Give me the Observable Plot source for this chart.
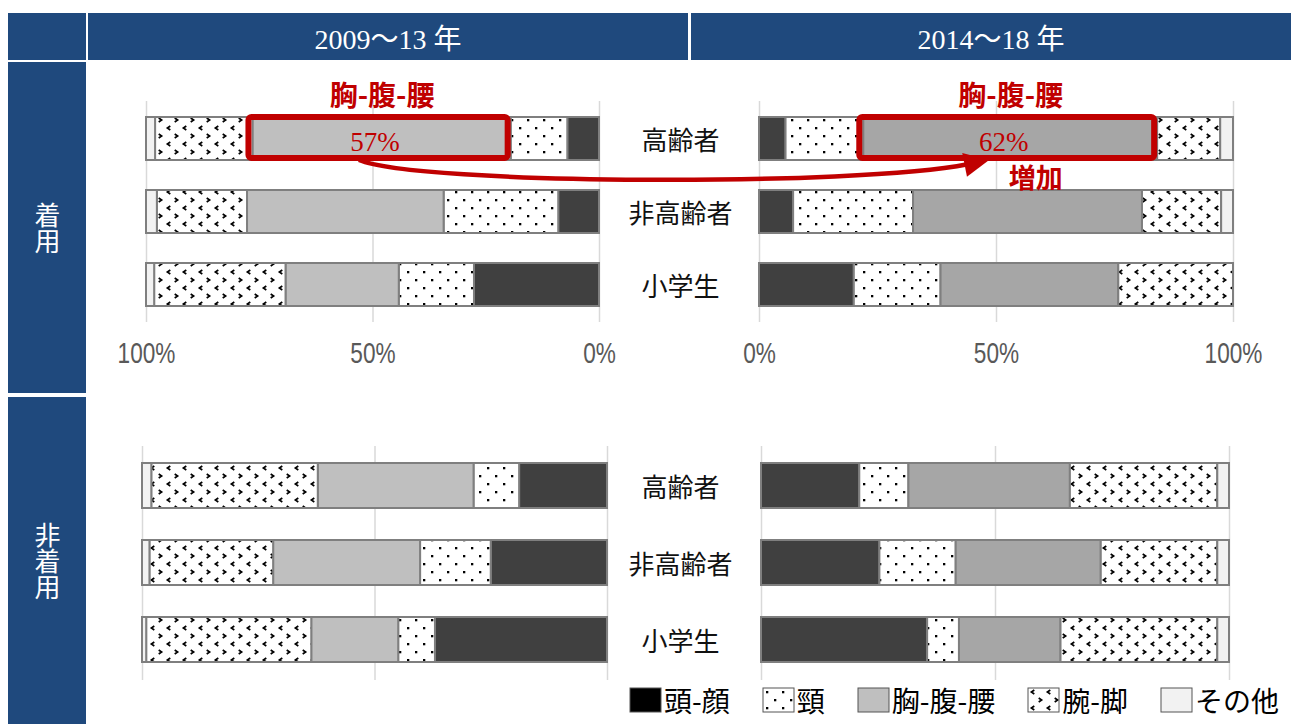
<!DOCTYPE html>
<html><head><meta charset="utf-8">
<script src="https://cdn.jsdelivr.net/npm/d3@7"></script>
<script src="https://cdn.jsdelivr.net/npm/@observablehq/plot@0.6"></script>
<style>
body{margin:0;background:#fff;}
#page{position:relative;width:1299px;height:724px;overflow:hidden;font-family:"Noto Sans CJK JP",sans-serif;}
.cell{position:absolute;background:#1f497d;color:#fff;display:flex;align-items:center;justify-content:center;}
.hdr{font-family:"Liberation Serif","Noto Sans CJK JP",serif;font-size:28px;}
.side{font-size:26px;}
.side span{writing-mode:vertical-rl;text-orientation:upright;line-height:1;}
.panel{position:absolute;}
#overlay{position:absolute;left:0;top:0;pointer-events:none;}
#legend{position:absolute;left:630px;top:680px;width:700px;}
#legend .lg-swatches{font-size:28px !important;font-family:"Noto Sans CJK JP",sans-serif !important;color:#000;margin:0 !important;}
#legend .lg-swatch{margin-right:33px !important;}
#legend .lg-swatch > svg{margin-right:3px !important;}
#legend .lg-swatch rect{stroke:#555;stroke-width:1px;}
</style></head><body>
<svg width="0" height="0" style="position:absolute">
<defs>
<pattern id="pDots" patternUnits="userSpaceOnUse" width="16" height="16">
<rect width="16" height="16" fill="#fff"/>
<rect x="3" y="3" width="2.3" height="2.3" fill="#000"/>
<rect x="11" y="11" width="2.3" height="2.3" fill="#000"/>
</pattern>
<pattern id="pChev" patternUnits="userSpaceOnUse" width="16" height="16">
<rect width="16" height="16" fill="#fff"/>
<path d="M6.3,2 L3.4,4 L6.3,6" fill="none" stroke="#000" stroke-width="1.7"/>
<path d="M10.7,10 L13.6,12 L10.7,14" fill="none" stroke="#000" stroke-width="1.7"/>
</pattern>
</defs>
</svg>
<div id="page"></div>
<script>
// ---- data ----
const parts = ["頭-顔", "頸", "胸-腹-腰", "腕-脚", "その他"];
const groups = ["高齢者", "非高齢者", "小学生"];
const ticks = [0, 50, 100];
const periods = ["2009～13 年", "2014～18 年"];
const wearLabels = ["着用", "非着用"];
// rows: groups, columns: parts (percent)
const wearing2009 = [[7, 12.5, 57, 21.5, 2], [9, 25.3, 43.4, 19.9, 2.4], [27.6, 16.6, 25, 29, 1.8]];
const wearing2014 = [[5.6, 16.4, 62, 13.3, 2.7], [7.2, 25.3, 48.3, 16.7, 2.5], [20, 18.3, 37.5, 24.2, 0]];
const notWearing2009 = [[18.9, 9.8, 33.5, 35.8, 2], [25, 15.2, 31.6, 26.6, 1.6], [37, 7.9, 18.7, 35.5, 0.9]];
const notWearing2014 = [[21, 10.5, 34.5, 31.5, 2.5], [25.3, 16.3, 31, 24.9, 2.5], [35.5, 6.8, 21.7, 33.5, 2.5]];
const highlight = {group: "高齢者", part: "胸-腹-腰", change: "増加"};
const fillsEarly = ["#404040", "url(#pDots)", "#bfbfbf", "url(#pChev)", "#f2f2f2"];
const fillsLate = ["#404040", "url(#pDots)", "#a6a6a6", "url(#pChev)", "#f2f2f2"];
const legendFills = ["#000000", "url(#pDots)", "#bfbfbf", "url(#pChev)", "#f2f2f2"];

const page = document.getElementById("page");
function cell(cls, l, t, w, h, html) {
  const d = document.createElement("div");
  d.className = "cell " + cls;
  Object.assign(d.style, {left: l + "px", top: t + "px", width: w + "px", height: h + "px"});
  d.innerHTML = html;
  page.appendChild(d);
}
cell("", 8, 13, 78, 47, "");
cell("hdr", 88, 13, 600, 47, periods[0]);
cell("hdr", 691, 13, 600, 47, periods[1]);
cell("side", 8, 62, 78, 331, "<span>" + wearLabels[0] + "</span>");
cell("side", 8, 397, 78, 327, "<span>" + wearLabels[1] + "</span>");

const cjk = "Noto Sans CJK JP, sans-serif";
function makePanel(cfg) {
  const data = groups.flatMap((g, i) => parts.map((p, j) => ({group: g, part: p, value: cfg.values[i][j]})));
  const st = (o) => Plot.stackX({x: "value", y: "group", ...o});
  const isHi = d => d.group === highlight.group && d.part === highlight.part;
  const marks = [
    Plot.ruleX(ticks, {stroke: "#d9d9d9", strokeWidth: 1.5}),
    Plot.barX(data, st({fill: "part", stroke: "#7f7f7f", strokeWidth: 2}))
  ];
  if (cfg.labels) marks.push(Plot.text(groups, {y: d => d, text: d => d, frameAnchor: "left", dx: cfg.labelDx, dy: 3,
    textAnchor: "middle", fontSize: 26, fill: "#111", fontFamily: cjk}));
  if (cfg.axis) marks.push(Plot.axisX(ticks, {tickSize: 0, tickPadding: 20, tickFormat: d => d + "%", fontSize: 29,
    label: null, color: "#595959", fontFamily: "Liberation Sans, Arial, sans-serif"}));
  if (cfg.highlight) {
    marks.push(
      Plot.barX(data, Plot.filter(isHi, st({fill: "none", stroke: "#c00000", strokeWidth: 6, rx: 3,
        insetLeft: -4, insetRight: 3, insetTop: 0, insetBottom: 2}))),
      Plot.text(data, Plot.filter(isHi, st({text: "part", dy: -42, fontSize: 28, fontWeight: "bold", fill: "#c00000", fontFamily: cjk}))),
      Plot.text(data, Plot.filter(isHi, st({text: d => Math.round(d.value) + "%", dx: -7, dy: 3, fontSize: 27,
        fill: "#c00000", fontFamily: "Liberation Serif, serif"})))
    );
    if (cfg.change) marks.push(Plot.text(data, Plot.filter(isHi, st({text: () => highlight.change, dx: 25, dy: 40,
      fontSize: 27, fontWeight: "bold", fill: "#c00000", fontFamily: cjk}))));
  }
  const xOpt = {domain: [0, 100], reverse: cfg.reverse, label: null};
  if (!cfg.axis) xOpt.axis = null;
  const plot = Plot.plot({
    width: cfg.width, height: cfg.height,
    marginLeft: cfg.ml, marginRight: cfg.mr, marginTop: cfg.mt, marginBottom: cfg.mb,
    x: xOpt,
    y: {domain: groups, paddingInner: 0.41, paddingOuter: cfg.po, axis: null},
    color: {domain: parts, range: cfg.fills},
    style: {background: "transparent", overflow: "visible"},
    marks
  });
  d3.select(plot).selectAll('g[aria-label="x-axis tick label"] text').each(function() {
    const x = this.getAttribute("x"), y = this.getAttribute("y");
    let t = this.getAttribute("transform") || "";
    if (x != null) { t += ` translate(${x},${y || 0})`; this.removeAttribute("x"); this.removeAttribute("y"); }
    this.setAttribute("transform", t + " scale(0.78,1)");
  });
  const wrap = document.createElement("div");
  wrap.className = "panel";
  wrap.style.left = cfg.left + "px"; wrap.style.top = cfg.top + "px";
  wrap.appendChild(plot);
  page.appendChild(wrap);
  return plot;
}

const TL = {values: wearing2009, fills: fillsEarly, reverse: true, left: 100, top: 60, width: 520, height: 320, ml: 46, mr: 21, mt: 41, mb: 58, po: 0.21, axis: true, highlight: true};
const TR = {values: wearing2014, fills: fillsLate, reverse: false, left: 700, top: 60, width: 560, height: 320, ml: 59, mr: 27, mt: 41, mb: 58, po: 0.21, axis: true, highlight: true, change: true, labels: true, labelDx: -79};
const BL = {values: notWearing2009, fills: fillsEarly, reverse: true, left: 100, top: 400, width: 530, height: 290, ml: 42, mr: 23, mt: 46, mb: 10, po: 0.22};
const BR = {values: notWearing2014, fills: fillsLate, reverse: false, left: 700, top: 400, width: 550, height: 290, ml: 61, mr: 21, mt: 46, mb: 10, po: 0.22, labels: true, labelDx: -81};
const pTL = makePanel(TL), pTR = makePanel(TR);
makePanel(BL); makePanel(BR);

// arrow from the 2009-13 highlight to the 2014-18 highlight
const yTL = pTL.scale("y"), yTR = pTR.scale("y");
const sx = TL.left + pTL.scale("x").apply(53), sy = TL.top + yTL.apply(highlight.group) + yTL.bandwidth;
const ex = TR.left + pTR.scale("x").apply(44), ey = TR.top + yTR.apply(highlight.group) + yTR.bandwidth * 1.1;
const c1 = [sx + 60, sy + 25], c2 = [ex - 110, ey + 22];
const ov = d3.select(page).append("svg").attr("id", "overlay").attr("width", 1299).attr("height", 724);
const ux = ex - c2[0], uy = ey - c2[1], un = Math.hypot(ux, uy);
const u = [ux / un, uy / un], n = [-u[1], u[0]];
ov.append("path").attr("d", `M${sx},${sy} C${c1[0]},${c1[1]} ${c2[0]},${c2[1]} ${ex},${ey}`)
  .attr("fill", "none").attr("stroke", "#c00000").attr("stroke-width", 4.5);
const tip = [ex + u[0] * 22, ey + u[1] * 22], b = [ex - u[0] * 3, ey - u[1] * 3];
ov.append("path").attr("d", `M${tip[0]},${tip[1]} L${b[0] + n[0] * 12},${b[1] + n[1] * 12} L${b[0] - n[0] * 12},${b[1] - n[1] * 12} Z`)
  .attr("fill", "#c00000");

// legend
const lg = document.createElement("div");
lg.id = "legend";
lg.appendChild(Plot.legend({color: {type: "ordinal", domain: parts, range: legendFills}, swatchWidth: 31, swatchHeight: 24, className: "lg"}));
page.appendChild(lg);
</script>
</body></html>
